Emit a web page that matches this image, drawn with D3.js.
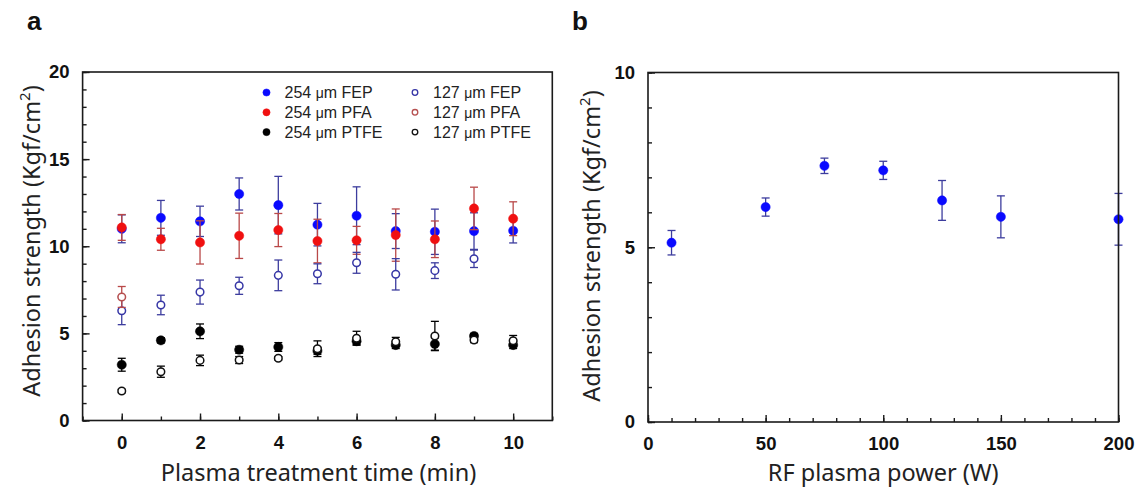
<!DOCTYPE html>
<html><head><meta charset="utf-8">
<script src="https://cdn.jsdelivr.net/npm/d3@7"></script>
<style>html,body{margin:0;padding:0;background:#fff}svg{display:block}</style>
</head><body>
<svg id="c" width="1137" height="489"></svg>
<script>
// ---- Panel a data ----
const timeMin = [0,1,2,3,4,5,6,7,8,9,10];
const fep254 = [11.0,11.63,11.43,13.0,12.36,11.24,11.75,10.87,10.83,10.87,10.89];
const fep254Err = [0.8,1.0,0.87,0.92,1.65,1.22,1.66,1.0,1.3,1.05,0.7];
const pfa254 = [11.08,10.4,10.22,10.6,10.93,10.3,10.34,10.64,10.4,12.17,11.58];
const pfa254Err = [0.74,0.63,1.24,1.3,0.95,1.25,0.8,1.5,1.05,1.22,0.97];
const ptfe254 = [3.2,4.6,5.12,4.06,4.22,4.0,4.55,4.33,4.39,4.85,4.33];
const ptfe254Err = [0.37,0.15,0.42,0.2,0.25,0.2,0.2,0.2,0.35,0.15,0.2];
const fep127 = [6.3,6.63,7.37,7.73,8.33,8.42,9.05,8.39,8.6,9.28,null];
const fep127Err = [0.8,0.56,0.69,0.49,0.88,0.57,0.6,0.9,0.45,0.5,0];
const pfa127 = [7.09,null,null,null,null,null,null,null,null,null,null];
const pfa127Err = [0.6,0,0,0,0,0,0,0,0,0,0];
const ptfe127 = [1.69,2.8,3.45,3.47,3.57,4.12,4.72,4.52,4.85,4.62,4.58];
const ptfe127Err = [0.1,0.32,0.3,0.2,0.1,0.45,0.4,0.25,0.84,0.15,0.3];
const xTicksA = [0,2,4,6,8,10];
const yTicksA = [0,5,10,15,20];

// ---- Panel b data ----
const powerW = [10,50,75,100,125,150,200];
const strengthB = [5.13,6.15,7.33,7.2,6.34,5.87,5.8];
const strengthBErr = [0.35,0.26,0.22,0.26,0.57,0.6,0.74];
const xTicksB = [0,50,100,150,200];
const yTicksB = [0,5,10];

const svg = d3.select("#c");
const FONT = "'Liberation Sans', Arial, sans-serif";
const TFONT = "'Noto Sans', 'Open Sans', sans-serif";
const TSIZE = 23.5;

function frame(g, x0, x1, y0, y1) {
  g.append("rect").attr("x", x0).attr("y", y0).attr("width", x1 - x0).attr("height", y1 - y0)
    .attr("fill", "none").attr("stroke", "#1a1a1a").attr("stroke-width", 1.6);
}
function axes(g, x, y, xMaj, xMin, yMaj, yMin, y1, x0) {
  const ax = g.append("g").attr("transform", `translate(0,${y1})`)
    .call(d3.axisBottom(x).tickValues(xMin).tickSize(-4).tickFormat(""));
  ax.select(".domain").remove();
  const axM = g.append("g").attr("transform", `translate(0,${y1})`)
    .call(d3.axisBottom(x).tickValues(xMaj).tickSize(-7).tickPadding(15).tickFormat(d3.format("d")));
  axM.select(".domain").remove();
  const ay = g.append("g").attr("transform", `translate(${x0},0)`)
    .call(d3.axisLeft(y).tickValues(yMin).tickSize(-4).tickFormat(""));
  ay.select(".domain").remove();
  const ayM = g.append("g").attr("transform", `translate(${x0},0)`)
    .call(d3.axisLeft(y).tickValues(yMaj).tickSize(-7).tickPadding(13).tickFormat(d3.format("d")));
  ayM.select(".domain").remove();
  g.selectAll(".tick line").attr("stroke", "#1a1a1a").attr("stroke-width", 1.4);
  g.selectAll(".tick text").attr("font-family", FONT).attr("font-weight", "bold")
    .attr("font-size", 18.5).attr("fill", "#111");
}
function series(g, x, y, xs, vals, errs, opt) {
  const pts = xs.map((t, i) => ({t, v: vals[i], e: errs[i]})).filter(d => d.v != null);
  const eg = g.append("g").attr("stroke", opt.errColor).attr("stroke-width", 1.3).attr("fill", "none");
  pts.forEach(d => {
    if (!d.e) return;
    const cx = x(d.t), yt = y(d.v + d.e), yb = y(d.v - d.e);
    eg.append("line").attr("x1", cx).attr("x2", cx).attr("y1", yt).attr("y2", yb);
    eg.append("line").attr("x1", cx - 4).attr("x2", cx + 4).attr("y1", yt).attr("y2", yt);
    eg.append("line").attr("x1", cx - 4).attr("x2", cx + 4).attr("y1", yb).attr("y2", yb);
  });
  g.append("g").selectAll("circle").data(pts).join("circle")
    .attr("cx", d => x(d.t)).attr("cy", d => y(d.v))
    .attr("r", opt.filled ? 4.6 : 3.8)
    .attr("fill", opt.filled ? opt.color : "#fff")
    .attr("stroke", opt.color).attr("stroke-width", opt.filled ? 0.5 : 1.5);
}

// ---------- Panel a ----------
const A = {x0: 82.6, x1: 552.3, y0: 72, y1: 420.5};
const xA = d3.scaleLinear().domain([-1, 11]).range([A.x0, A.x1]);
const yA = d3.scaleLinear().domain([0, 20]).range([A.y1, A.y0]);
const gA = svg.append("g");
axes(gA, xA, yA, xTicksA, d3.range(-1, 12, 1), yTicksA, d3.range(0, 21, 1), A.y1, A.x0);

const seriesA = [
  {name: "254 μm FEP", vals: fep254, errs: fep254Err, color: "#0a0aff", errColor: "#3d3d9e", filled: true},
  {name: "254 μm PFA", vals: pfa254, errs: pfa254Err, color: "#f01010", errColor: "#b94848", filled: true},
  {name: "254 μm PTFE", vals: ptfe254, errs: ptfe254Err, color: "#000", errColor: "#000", filled: true},
  {name: "127 μm FEP", vals: fep127, errs: fep127Err, color: "#3636a6", errColor: "#3d3d9e", filled: false},
  {name: "127 μm PFA", vals: pfa127, errs: pfa127Err, color: "#b65050", errColor: "#b94848", filled: false},
  {name: "127 μm PTFE", vals: ptfe127, errs: ptfe127Err, color: "#111", errColor: "#000", filled: false}
];
seriesA.forEach(s => series(gA, xA, yA, timeMin, s.vals, s.errs, s));
frame(gA, A.x0, A.x1, A.y0, A.y1);

// legend
const leg = gA.append("g");
seriesA.forEach((s, i) => {
  const col = Math.floor(i / 3), row = i % 3;
  const mx = col === 0 ? 266.5 : 415, ty = 92.5 + row * 19.8;
  leg.append("circle").attr("cx", mx).attr("cy", ty).attr("r", s.filled ? 3.6 : 2.8)
    .attr("fill", s.filled ? s.color : "#fff").attr("stroke", s.color).attr("stroke-width", s.filled ? 0.5 : 1.3);
  const parts = s.name.split(" ");
  const t = leg.append("text").attr("x", mx + 18).attr("y", ty + 5.5).attr("font-family", FONT)
    .attr("font-size", 16).attr("fill", "#222");
  t.append("tspan").text(parts[0] + " ");
  t.append("tspan").attr("font-size", 14).text("μ");
  t.append("tspan").text(parts[1].slice(1) + " " + parts[2]);
});

// axis titles
svg.append("text").attr("x", (A.x0 + A.x1) / 2 + 1).attr("y", 481).attr("text-anchor", "middle")
  .attr("font-family", TFONT).attr("font-size", TSIZE).attr("fill", "#222").text("Plasma treatment time (min)");
function yTitle(cx, cy) {
  const t = svg.append("text").attr("transform", `translate(${cx},${cy}) rotate(-90)`)
    .attr("text-anchor", "middle").attr("font-family", TFONT).attr("font-size", TSIZE).attr("fill", "#222");
  t.append("tspan").text("Adhesion strength (Kgf/cm");
  t.append("tspan").attr("font-size", 15).attr("dy", -10).text("2");
  t.append("tspan").attr("dy", 10).text(")");
}
yTitle(40, 241);

// ---------- Panel b ----------
const B = {x0: 648, x1: 1118.5, y0: 72.5, y1: 422};
const xB = d3.scaleLinear().domain([0, 200]).range([B.x0, B.x1]);
const yB = d3.scaleLinear().domain([0, 10]).range([B.y1, B.y0]);
const gB = svg.append("g");
axes(gB, xB, yB, xTicksB, d3.range(0, 201, 10), yTicksB, d3.range(0, 11, 1), B.y1, B.x0);
series(gB, xB, yB, powerW, strengthB, strengthBErr, {color: "#0a0aff", errColor: "#3d3d9e", filled: true});
frame(gB, B.x0, B.x1, B.y0, B.y1);

svg.append("text").attr("x", (B.x0 + B.x1) / 2).attr("y", 481).attr("text-anchor", "middle")
  .attr("font-family", TFONT).attr("font-size", TSIZE).attr("fill", "#222").text("RF plasma power (W)");
yTitle(600, 246);

// panel letters
svg.append("text").attr("x", 27).attr("y", 30).attr("font-family", FONT).attr("font-weight", "bold")
  .attr("font-size", 26).attr("fill", "#111").text("a");
svg.append("text").attr("x", 572).attr("y", 30).attr("font-family", FONT).attr("font-weight", "bold")
  .attr("font-size", 26).attr("fill", "#111").text("b");
</script>
</body></html>
